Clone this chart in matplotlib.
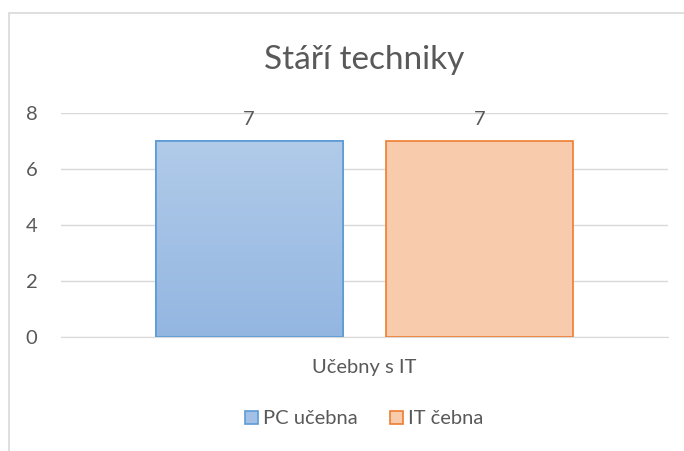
import matplotlib.pyplot as plt
from matplotlib.patches import Rectangle
from matplotlib.colors import LinearSegmentedColormap
import numpy as np

title = "Stáří techniky"
category = "Učebny s IT"
series_names = ["PC učebna", "IT čebna"]
series_values = [7, 7]
y_ticks = [0, 2, 4, 6, 8]

fill_colors = ["#A3C1E6", "#F8CBAD"]
edge_colors = ["#5B9BD5", "#ED7D31"]
text_color = "#595959"

plt.rcParams['font.family'] = ['Lato', 'DejaVu Sans']

fig = plt.figure(figsize=(6.84, 4.51), dpi=100)
# chart frame
fig.patches.append(Rectangle((9 / 684, -0.1), 1.2, (451 - 13) / 451 + 0.1,
                             transform=fig.transFigure, fill=False,
                             edgecolor="#D9D9D9", linewidth=1.2))

ax = fig.add_axes([61 / 684, 1 - 337 / 451, 607 / 684, 224 / 451])
offsets = [-0.19, 0.19]
width = 0.308
bars = []
for i, (name, val) in enumerate(zip(series_names, series_values)):
    b = ax.bar(offsets[i], val, width=width, color=fill_colors[i],
               edgecolor=edge_colors[i], linewidth=1.2, label=name, zorder=3)
    bars.append(b)
    ax.text(offsets[i], val + 0.45, str(val), ha="center", va="bottom",
            fontsize=14.5, color=text_color)

# gradient on the blue bar
r = bars[0][0]
grad = np.linspace(0, 1, 256).reshape(-1, 1)
cmap = LinearSegmentedColormap.from_list("g", ["#93B6E1", "#B1CBE9"])
im = ax.imshow(grad, cmap=cmap, origin="lower", aspect="auto",
               extent=[offsets[0] - width / 2, offsets[0] + width / 2, 0, series_values[0]],
               zorder=3.5)
im.set_clip_path(r)
ax.bar(offsets[0], series_values[0], width=width, fill=False,
       edgecolor=edge_colors[0], linewidth=1.2, zorder=4)

ax.set_xlim(-0.5, 0.5)
ax.set_ylim(0, 8)
ax.set_yticks(y_ticks)
ax.set_xticks([])
ax.grid(axis="y", color="#D9D9D9", linewidth=1, zorder=0)
for s in ["top", "right", "left"]:
    ax.spines[s].set_visible(False)
ax.spines["bottom"].set_color("#D9D9D9")
ax.tick_params(axis="y", length=0, labelsize=14.5, labelcolor=text_color, pad=17)

fig.text(364 / 684, 1 - 60 / 451, title, ha="center", va="center",
         fontsize=24, color=text_color)
fig.text(364 / 684, 1 - 368 / 451, category, ha="center", va="center",
         fontsize=14.5, color=text_color)

fig.legend(handles=[b[0] for b in bars], labels=series_names,
           loc="center", bbox_to_anchor=(364 / 684, 1 - 419 / 451),
           ncol=2, frameon=False, fontsize=14.5, labelcolor=text_color,
           handlelength=0.65, handleheight=0.65, handletextpad=0.25,
           columnspacing=1.6)

fig.savefig("out.png", dpi=100)
